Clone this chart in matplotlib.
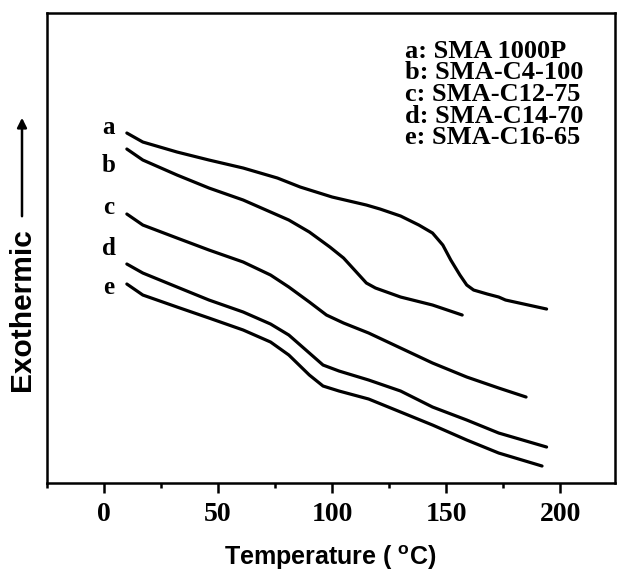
import numpy as np
import matplotlib
matplotlib.use('Agg')
import matplotlib.pyplot as plt
from matplotlib.ticker import MultipleLocator

# -----------------------------
# DSC curves, heat flow in arbitrary units
# -----------------------------
temp_a = [10, 17, 32, 46, 61, 76, 86, 100, 115, 121, 130, 138, 144, 148.5, 152, 156, 159, 162, 168, 173, 176, 194]
flow_a = [350, 341, 331, 323, 315, 305, 296, 286, 278, 274, 267, 258, 250, 238, 223, 208, 198, 193, 189, 186, 183, 174]

temp_b = [10, 17, 32, 46, 61, 73, 81, 90, 99, 105, 111, 115, 119, 130, 144, 157]
flow_b = [334, 323, 308, 295, 283, 271, 263, 251, 236, 225, 210, 200, 195, 186, 178, 168]

temp_c = [10, 17, 32, 46, 61, 73, 81, 90, 97.5, 105, 116, 130, 144, 159, 173, 185]
flow_c = [269, 258, 245, 233, 221, 208, 196, 181, 168, 160, 150, 135, 120, 106, 95, 86]

temp_d = [10, 17, 32, 46, 61, 73, 81, 90, 96, 103, 116, 130, 144, 159, 173, 194]
flow_d = [219, 210, 196, 183, 171, 159, 148, 130, 118, 112, 103, 92, 76, 63, 50, 36]

temp_e = [10, 17, 32, 46, 61, 73, 81, 90, 96, 103, 116, 130, 144, 159, 173, 192]
flow_e = [199, 188, 176, 165, 153, 141, 128, 108, 97, 92, 84, 71, 58, 43, 30, 17]

curve_tags = ['a', 'b', 'c', 'd', 'e']
sample_names = ['a: SMA 1000P', 'b: SMA-C4-100', 'c: SMA-C12-75',
                'd: SMA-C14-70', 'e: SMA-C16-65']
x_ticks = [0, 50, 100, 150, 200]

# -----------------------------
# Figure
# -----------------------------
plt.rcParams['mathtext.fontset'] = 'custom'
plt.rcParams['mathtext.rm'] = 'Liberation Sans:bold'
plt.rcParams['mathtext.bf'] = 'Liberation Sans:bold'

fig = plt.figure(figsize=(6.17, 5.74), dpi=100)
ax = fig.add_axes([0.0762, 0.1585, 0.9206, 0.8188])

temps = [temp_a, temp_b, temp_c, temp_d, temp_e]
flows = [flow_a, flow_b, flow_c, flow_d, flow_e]
for t, f in zip(temps, flows):
    ax.plot(t, f, color='black', lw=2.3, solid_capstyle='round', solid_joinstyle='round')

ax.set_xlim(-25, 224)
ax.set_ylim(0, 470)

# curve letters next to the start of each curve
tag_y = [356, 318, 276, 235, 196]
for tag, y in zip(curve_tags, tag_y):
    ax.text(2, y, tag, family='Liberation Serif', weight='bold', fontsize=18,
            ha='center', va='center')

# -----------------------------
# Axes styling
# -----------------------------
for s in ax.spines.values():
    s.set_linewidth(1.8)
ax.set_xticks(x_ticks)
ax.xaxis.set_minor_locator(MultipleLocator(25))
ax.tick_params(axis='x', which='major', direction='out', length=7, width=1.8, pad=7,
               labelsize=20)
ax.tick_params(axis='x', which='minor', direction='out', length=3.5, width=1.8)
ax.tick_params(axis='y', left=False, labelleft=False)
for lab in ax.get_xticklabels():
    lab.set_family('Liberation Serif')
    lab.set_weight('bold')

# sample names (top right)
for i, name in enumerate(sample_names):
    fig.text(405 / 617, 1 - (51 + 21.7 * i) / 574, name, family='Liberation Serif',
             weight='bold', fontsize=19, ha='left', va='center')

# axis labels
fig.text(330 / 617, 1 - 558 / 574, r'Temperature ( $^{\mathbf{o}}$C)',
         family='Liberation Sans', weight='bold', fontsize=18, ha='center', va='center')
fig.text(22 / 617, 1 - 310 / 574, 'Exothermic', family='Liberation Sans', weight='bold',
         fontsize=21.5, rotation=90, ha='center', va='center')
ax.annotate('', xy=(22, 574 - 115), xytext=(22, 574 - 219), xycoords='figure pixels',
            textcoords='figure pixels', annotation_clip=False,
            arrowprops=dict(arrowstyle='-|>', lw=1.8, color='black', mutation_scale=14))

fig.savefig('out.png', dpi=100)
